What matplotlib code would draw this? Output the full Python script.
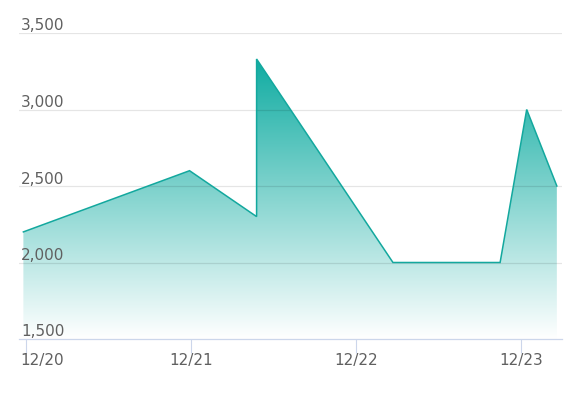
import matplotlib
matplotlib.use("Agg")
import matplotlib.pyplot as plt
import matplotlib.dates as mdates
import matplotlib.transforms as mtransforms
from matplotlib.patches import Polygon
from matplotlib.colors import LinearSegmentedColormap
import numpy as np
import pandas as pd

# data
times = pd.to_datetime([
    "2021-12-19 23:40", "2021-12-20 23:50", "2021-12-21 09:35", "2021-12-21 09:35",
    "2021-12-22 05:25", "2021-12-22 21:00", "2021-12-23 00:52", "2021-12-23 05:15",
])
values = [2200, 2600, 2300, 3330, 2000, 2000, 3000, 2500]

x_ticks = pd.to_datetime(["2021-12-20", "2021-12-21", "2021-12-22", "2021-12-23"])
x_tick_labels = ["12/20", "12/21", "12/22", "12/23"]
y_ticks = [1500, 2000, 2500, 3000, 3500]

LINE_COLOR = "#13a89e"
FILL_COLOR = "#10aca2"
TEXT_COLOR = "#606060"
AXIS_COLOR = "#ccd6eb"

fig = plt.figure(figsize=(5.74, 3.94), dpi=100)
ax = fig.add_axes([18.8 / 574, 55 / 394, (562 - 18.8) / 574, 306 / 394])

xn = mdates.date2num(times)
x_min = mdates.date2num(pd.Timestamp("2021-12-19 23:00"))
x_max = mdates.date2num(pd.Timestamp("2021-12-23 06:00"))
y_min, y_max = y_ticks[0], y_ticks[-1]
ax.set_xlim(x_min, x_max)
ax.set_ylim(y_min, y_max)

# gradient fill (teal at the top fading to white at the base), clipped to the area
top = max(values)
cmap = LinearSegmentedColormap.from_list("fade", ["#ffffff", FILL_COLOR])
grad = np.linspace(0, 1, 256).reshape(-1, 1)
img = ax.imshow(grad, cmap=cmap, aspect="auto", origin="lower",
                extent=[xn[0], xn[-1], y_min, top], zorder=2, interpolation="bicubic")
verts = [(xn[0], y_min)] + list(zip(xn, values)) + [(xn[-1], y_min)]
area = Polygon(verts, closed=True, facecolor="none", edgecolor="none")
ax.add_patch(area)
img.set_clip_path(area)

# grid drawn translucent so it shows through the fill
for v in y_ticks[1:]:
    ax.axhline(v, color="black", alpha=0.1, lw=0.9, zorder=2.5)

ax.plot(xn, values, color=LINE_COLOR, lw=1.1, zorder=3, solid_joinstyle="miter")

for s in ["top", "right", "left"]:
    ax.spines[s].set_visible(False)
ax.spines["bottom"].set_color(AXIS_COLOR)
ax.spines["bottom"].set_linewidth(0.9)
ax.spines["bottom"].set_zorder(4)

ax.set_yticks([])
lab_off = mtransforms.ScaledTranslation(0.012, 0.025, fig.dpi_scale_trans)
for v in y_ticks:
    ax.text(0.002, v, f"{v:,}", transform=mtransforms.blended_transform_factory(
        ax.transAxes, ax.transData) + lab_off, ha="left", va="baseline",
        fontsize=11, color=TEXT_COLOR)

ax.set_xticks(mdates.date2num(x_ticks))
ax.set_xticklabels(x_tick_labels, fontsize=11, color=TEXT_COLOR)
ax.tick_params(axis="x", length=10, width=0.8, color=AXIS_COLOR, pad=0)
first = ax.get_xticklabels()[0]
first.set_ha("left")
first.set_transform(first.get_transform() +
                    mtransforms.ScaledTranslation(-0.05, 0, fig.dpi_scale_trans))

fig.savefig("out.png", dpi=100)
